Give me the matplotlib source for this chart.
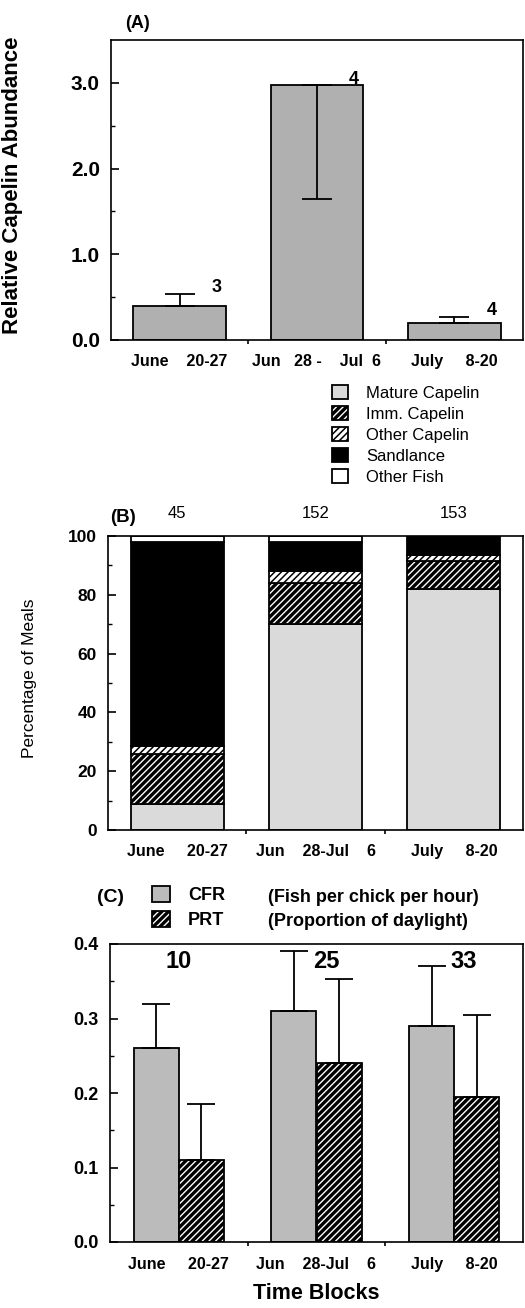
import numpy as np
import matplotlib
matplotlib.use('Agg')
import matplotlib.pyplot as plt

plt.rcParams['font.family'] = ['Liberation Sans', 'DejaVu Sans']
plt.rcParams['hatch.color'] = 'black'

# data
periods = ['June     20-27', 'Jun    28-Jul    6', 'July     8-20']
periods_a = ['June    20-27', 'Jun   28 -    Jul  6', 'July     8-20']

# (A) relative capelin abundance
abundance = [0.40, 2.97, 0.20]
abund_err_lo = [0.0, 1.33, 0.0]
abund_err_hi = [0.14, 0.0, 0.07]
abund_n = [3, 4, 4]

# (B) percentage of meals
diet_labels = ['Mature Capelin', 'Imm. Capelin', 'Other Capelin', 'Sandlance', 'Other Fish']
mature = [9, 70, 82]
imm = [17, 14, 9.5]
other_cap = [2.5, 4, 2]
sandlance = [69.5, 10, 6.5]
other_fish = [2, 2, 0]
meals_n = [45, 152, 153]

# (C) chick feeding rate and proportion of time
cfr = [0.26, 0.31, 0.29]
cfr_err = [0.06, 0.08, 0.08]
prt = [0.11, 0.24, 0.195]
prt_err = [0.075, 0.113, 0.11]
obs_n = [10, 25, 33]

W, H = 525, 1308
fig = plt.figure(figsize=(W / 100, H / 100), dpi=100)


def px_axes(left, top, right, bottom):
    return fig.add_axes([left / W, 1 - bottom / H, (right - left) / W, (bottom - top) / H])


def style_axes(ax, labels, xpad):
    for s in ax.spines.values():
        s.set_linewidth(1.2)
    ax.set_xlim(-0.5, 2.5)
    ax.set_xticks([0.5, 1.5])
    ax.set_xticklabels([])
    ax.set_xticks([0, 1, 2], minor=True)
    ax.set_xticklabels(labels, minor=True, fontsize=11.5, fontweight='bold')
    ax.tick_params(axis='x', which='major', direction='out', length=3, width=1.2)
    ax.tick_params(axis='x', which='minor', length=0, pad=xpad)
    ax.tick_params(axis='y', which='major', direction='in', length=6, width=1.2, pad=8)
    ax.tick_params(axis='y', which='minor', direction='in', length=3, width=1.0)


def thick_hatch(patches, lw):
    for p in patches:
        if hasattr(p, 'set_hatch_linewidth'):
            p.set_hatch_linewidth(lw)


x = np.arange(3)

# ---------- panel A
ax_a = px_axes(111, 40, 523, 340)
ax_a.bar(x, abundance, width=0.676, color='#b0b0b0', edgecolor='black', linewidth=1.3, zorder=2)
ax_a.errorbar(x, abundance, yerr=[abund_err_lo, abund_err_hi], fmt='none', ecolor='black',
              elinewidth=1.3, capsize=11, capthick=1.3, zorder=3)
for i in range(3):
    ytop = abundance[i] + abund_err_hi[i]
    ax_a.text(i + 0.27, ytop + 0.07, str(abund_n[i]), fontsize=13, fontweight='bold',
              ha='center', va='center')
ax_a.set_ylim(0, 3.5)
ax_a.set_yticks([0, 1, 2, 3])
ax_a.set_yticklabels(['0.0', '1.0', '2.0', '3.0'], fontsize=15, fontweight='bold')
ax_a.set_yticks(np.arange(0.5, 3.5, 1.0), minor=True)
style_axes(ax_a, periods_a, 10)
ax_a.set_ylabel('Relative Capelin Abundance', fontsize=16, fontweight='bold')
ax_a.yaxis.set_label_coords(-0.214, 0.517)
fig.text(138 / W, 1 - 23 / H, '(A)', fontsize=13, fontweight='bold', ha='center', va='center')

# ---------- panel B
ax_b = px_axes(108, 536, 523, 830)
bw = 0.67
bottom = np.zeros(3)
seg_style = [
    dict(color='#dadada', hatch=None, lw=None),
    dict(color='white', hatch='/////', lw=2.4),
    dict(color='white', hatch='/////', lw=1.1),
    dict(color='black', hatch=None, lw=None),
    dict(color='white', hatch=None, lw=None),
]
handles = []
for vals, lab, st in zip([mature, imm, other_cap, sandlance, other_fish], diet_labels, seg_style):
    bars = ax_b.bar(x, vals, bottom=bottom, width=bw, color=st['color'], edgecolor='black',
                    linewidth=1.3, hatch=st['hatch'], label=lab, zorder=2)
    if st['lw'] is not None:
        thick_hatch(bars, st['lw'])
    handles.append(bars)
    bottom += np.array(vals)
for i in range(3):
    ax_b.text(i, 107.7, str(meals_n[i]), fontsize=12, ha='center', va='center')
ax_b.set_ylim(0, 100)
ax_b.set_yticks(np.arange(0, 101, 20))
ax_b.set_yticklabels([str(v) for v in range(0, 101, 20)], fontsize=12.5, fontweight='bold')
ax_b.set_yticks(np.arange(10, 100, 20), minor=True)
style_axes(ax_b, periods, 10)
ax_b.set_ylabel('Percentage of Meals', fontsize=12.5)
ax_b.yaxis.set_label_coords(-0.171, 0.517)
fig.text(123 / W, 1 - 517 / H, '(B)', fontsize=13.5, fontweight='bold', ha='center', va='center')
leg_b = fig.legend(handles, diet_labels, loc='upper left', bbox_to_anchor=(332 / W, 1 - 385 / H),
                   frameon=False, fontsize=12, handlelength=0.95, handleheight=0.95,
                   handletextpad=1.1, labelspacing=0.3, borderpad=0, borderaxespad=0)
leg_patches = leg_b.get_patches()
thick_hatch(leg_patches[1:2], 2.4)
thick_hatch(leg_patches[2:3], 1.1)

# ---------- panel C
ax_c = px_axes(110, 944, 523, 1242)
cw = 0.327
b1 = ax_c.bar(x - cw / 2, cfr, width=cw, color='#bbbbbb', edgecolor='black', linewidth=1.3, zorder=2)
b2 = ax_c.bar(x + cw / 2, prt, width=cw, color='white', edgecolor='black', linewidth=1.3,
              hatch='/////', zorder=2)
thick_hatch(b2, 2.4)
ax_c.errorbar(x - cw / 2, cfr, yerr=[np.zeros(3), cfr_err], fmt='none', ecolor='black',
              elinewidth=1.3, capsize=10, capthick=1.3, zorder=3)
ax_c.errorbar(x + cw / 2, prt, yerr=[np.zeros(3), prt_err], fmt='none', ecolor='black',
              elinewidth=1.3, capsize=10, capthick=1.3, zorder=3)
n_dx = [0.0, 0.07, 0.07]
for i in range(3):
    ax_c.text(i + n_dx[i], 0.376, str(obs_n[i]), fontsize=17, fontweight='bold',
              ha='center', va='center')
ax_c.set_ylim(0, 0.4)
ax_c.set_yticks(np.arange(0, 0.41, 0.1))
ax_c.set_yticklabels(['0.0', '0.1', '0.2', '0.3', '0.4'], fontsize=13, fontweight='bold')
ax_c.set_yticks(np.arange(0.05, 0.4, 0.1), minor=True)
style_axes(ax_c, periods, 11)
ax_c.set_xlabel('Time Blocks', fontsize=15.5, fontweight='bold', labelpad=8)

fig.text(110 / W, 1 - 898 / H, '(C)', fontsize=14, fontweight='bold', ha='center', va='center')
leg_c = fig.legend([b1, b2], ['CFR', 'PRT'], loc='upper left',
                   bbox_to_anchor=(152 / W, 1 - 886 / H), frameon=False,
                   prop={'size': 13, 'weight': 'bold'}, handlelength=1.0, handleheight=1.0,
                   handletextpad=1.0, labelspacing=0.38, borderpad=0, borderaxespad=0)
thick_hatch(leg_c.get_patches()[1:], 2.4)
fig.text(268 / W, 1 - 897 / H, '(Fish per chick per hour)', fontsize=13, fontweight='bold',
         ha='left', va='center')
fig.text(268 / W, 1 - 922 / H, '(Proportion of daylight)', fontsize=13, fontweight='bold',
         ha='left', va='center')

fig.savefig('out.png', dpi=100)
